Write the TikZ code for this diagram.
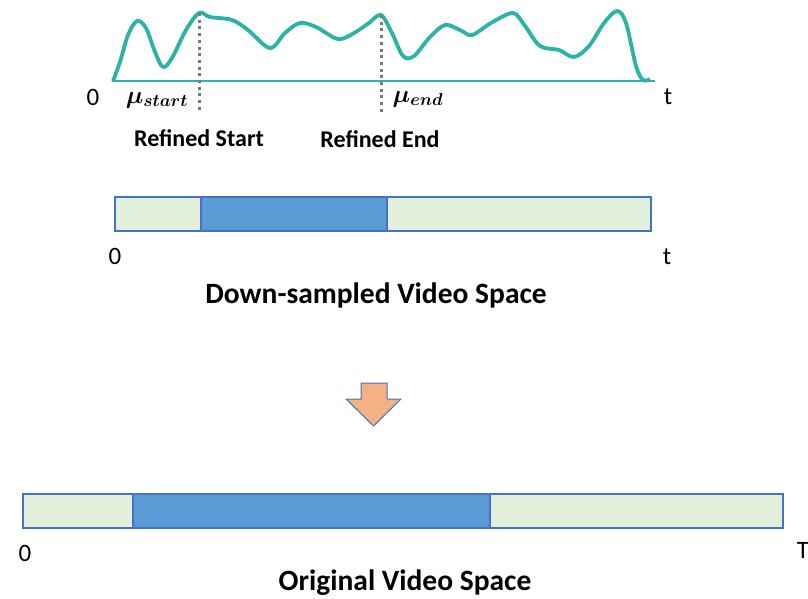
\documentclass[tikz,border=0pt]{standalone}
\usepackage{amsmath}
\usepackage{fontspec}
\setmainfont{Carlito}
\usepackage{tikz}
\usetikzlibrary{positioning}

\definecolor{curveteal}{RGB}{43,179,165}
\definecolor{clipgreen}{RGB}{226,239,218}
\definecolor{clipblue}{RGB}{91,155,213}
\definecolor{clipedge}{RGB}{68,114,196}
\definecolor{arroworange}{RGB}{244,177,131}
\definecolor{dotgray}{RGB}{120,120,120}

\tikzset{
  ticklabel/.style={inner sep=0pt, font=\fontsize{25}{30}\selectfont},
  reflabel/.style={inner sep=0pt, font=\fontsize{24}{29}\selectfont\bfseries},
  spacelabel/.style={inner sep=0pt, anchor=base, font=\fontsize{29.5}{35}\selectfont\bfseries},
  mulabel/.style={inner sep=0pt, font=\fontsize{26.5}{31}\selectfont},
  marker/.style={dotgray, line width=3pt, dash pattern=on 3pt off 3.7pt},
  segment/.style={draw=clipedge, line width=1.3pt}
}

\begin{document}
\begin{tikzpicture}[x=1pt, y=-1pt]
\useasboundingbox (0,0) rectangle (808,598);

\coordinate (a0) at (112,81);
\coordinate (a1) at (655,81);
\coordinate (ms) at (199,13);
\coordinate (me) at (381,15);

\draw[curveteal, line width=2.6pt] (a0) -- (a1);
\draw[curveteal, line width=3.8pt, line join=round] plot[smooth, tension=0.55] coordinates {
(113,81) (120,62) (128,35) (137,21) (146,28) (155,52) (163,67) (172,58)
(186,30) (199,13) (210,17) (232,20) (248,30) (270,48) (285,33) (300,23)
(316,27) (338,39) (354,33) (369,23) (381,15) (392,33) (403,56) (414,56)
(430,37) (445,25) (460,30) (472,35) (491,23) (513,13) (525,26) (540,46)
(559,50) (574,57) (589,46) (604,23) (617,11) (626,23) (636,66) (643,80) (650,79)};

\draw[marker] (ms) -- (199,113);
\draw[marker] (me) -- (381,113);

\node[ticklabel] (zero1) at (93,97) {0};
\node[ticklabel] (tend1) at (668,97) {t};
\node[mulabel] (mustart) at (157,100) {$\boldsymbol{\mu_{start}}$};
\node[mulabel] (muend) at (418,99) {$\boldsymbol{\mu_{end}}$};
\node[reflabel] (rstart) at (199,138) {Refined Start};
\node[reflabel] (rend) at (380,139) {Refined End};

\coordinate (d0) at (115,197);
\coordinate (d1) at (201,231);
\coordinate (d2) at (201,197);
\coordinate (d3) at (387,231);
\coordinate (d4) at (387,197);
\coordinate (d5) at (651,231);
\fill[clipgreen] (d0) rectangle (d1);
\fill[clipblue] (d2) rectangle (d3);
\fill[clipgreen] (d4) rectangle (d5);
\draw[segment] (d2) -- (d2 |- d1);
\draw[segment] (d4) -- (d4 |- d3);
\draw[segment] (d0) rectangle (d5);

\node[ticklabel] (zero2) at (115,256) {0};
\node[ticklabel] (tend2) at (667,257) {t};
\node[spacelabel] (down) at (376,303) {Down-sampled Video Space};

\draw[fill=arroworange, draw=clipedge, line width=1pt, line join=miter]
  (361,383) -- (387,383) -- (387,399) -- (401,399) -- (373.5,426)
  -- (346,399) -- (361,399) -- cycle;

\coordinate (o0) at (23,494);
\coordinate (o1) at (133,528);
\coordinate (o2) at (133,494);
\coordinate (o3) at (490,528);
\coordinate (o4) at (490,494);
\coordinate (o5) at (783,528);
\fill[clipgreen] (o0) rectangle (o1);
\fill[clipblue] (o2) rectangle (o3);
\fill[clipgreen] (o4) rectangle (o5);
\draw[segment] (o2) -- (o2 |- o1);
\draw[segment] (o4) -- (o4 |- o3);
\draw[segment] (o0) rectangle (o5);

\node[ticklabel] (zero3) at (25,553) {0};
\node[ticklabel] (tend3) at (803,550) {T};
\node[spacelabel] (orig) at (405,590) {Original Video Space};
\end{tikzpicture}
\end{document}
